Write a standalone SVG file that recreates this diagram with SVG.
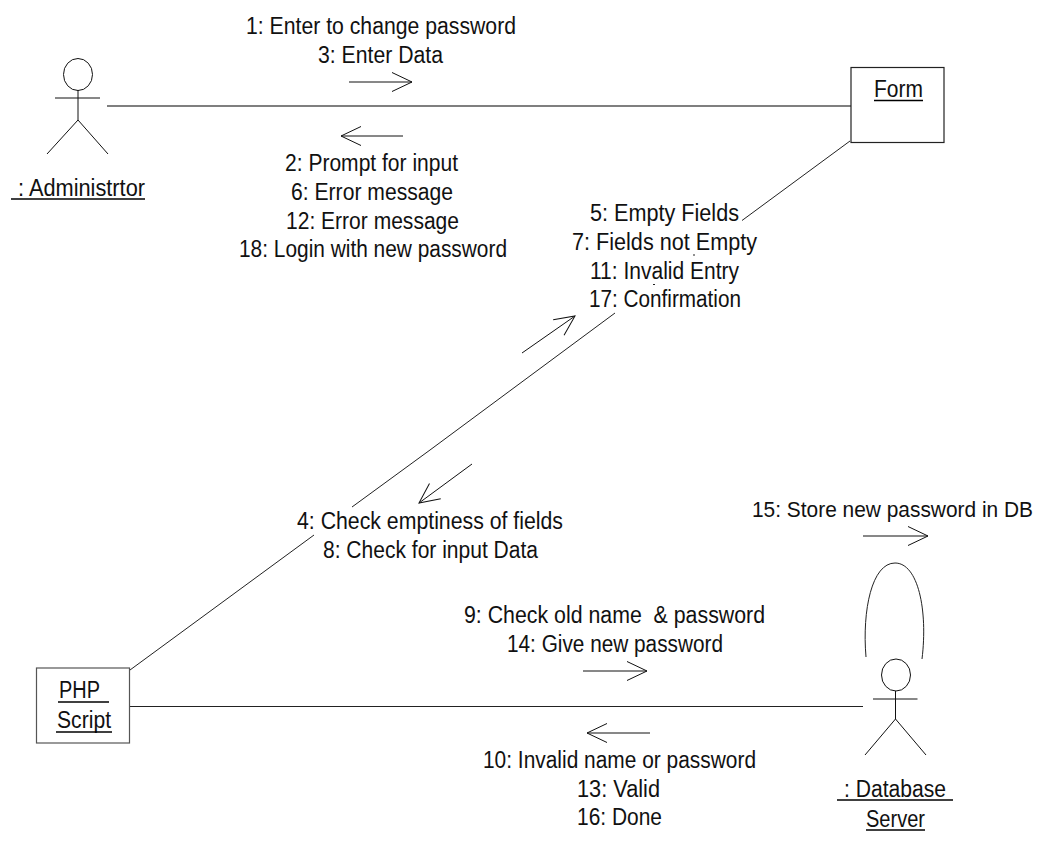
<svg xmlns="http://www.w3.org/2000/svg" width="1045" height="845" viewBox="0 0 1045 845">
<style>
text{font-family:"Liberation Sans",Arial,sans-serif;font-size:23px;fill:#111}
.s{fill:none;stroke:#111;stroke-width:1}
.box{fill:#fff;stroke:#222;stroke-width:1.2}
.u{stroke:#000;stroke-width:1.6}
.c{fill:none;stroke:#222;stroke-width:1}
.a{fill:none;stroke:#111;stroke-width:1;marker-end:url(#open)}
</style>
<defs>
<marker id="open" markerUnits="userSpaceOnUse" markerWidth="26" markerHeight="24" refX="22" refY="12" orient="auto">
<path d="M2,2.500 L22,12 L2,21.500" fill="none" stroke="#111" stroke-width="1"/>
</marker>
</defs>
<rect width="1045" height="845" fill="#fff"/>
<g id="connectors">
<path class="c" d="M107,106 H851" style="stroke:#555;stroke-width:1.5"/>
<path class="c" d="M850,141 L742,220.500"/>
<path class="c" d="M615,313 L430,450 L352,507"/>
<path class="c" d="M314,535 L130,670"/>
<path class="c" d="M130,706.500 H863"/>
<path class="c" d="M866,657 C862,610 872,563 895,563 C918,563 928,610 922,659"/>
<path class="c" d="M693,255 h2 M653,284.500 h2"/>
</g>
<g id="messages">
<path class="a" d="M522,353 L575,316"/>
<path class="a" d="M472,464 L419,503"/>
<path class="a" d="M349,82 H412"/>
<path class="a" d="M403,136 H341"/>
<path class="a" d="M583,671 H647"/>
<path class="a" d="M650,733 H587"/>
<path class="a" d="M863,536 H928"/>
<text x="246" y="34" textLength="270" lengthAdjust="spacingAndGlyphs">1: Enter to change password</text>
<text x="318" y="63" textLength="125" lengthAdjust="spacingAndGlyphs">3: Enter Data</text>
<text x="285" y="171" textLength="173" lengthAdjust="spacingAndGlyphs">2: Prompt for input</text>
<text x="291" y="200" textLength="162" lengthAdjust="spacingAndGlyphs">6: Error message</text>
<text x="286" y="229" textLength="173" lengthAdjust="spacingAndGlyphs">12: Error message</text>
<text x="239" y="257" textLength="268" lengthAdjust="spacingAndGlyphs">18: Login with new password</text>
<text x="590" y="220.500" textLength="149" lengthAdjust="spacingAndGlyphs">5: Empty Fields</text>
<text x="572" y="249.500" textLength="185" lengthAdjust="spacingAndGlyphs">7: Fields not Empty</text>
<text x="590" y="278.500" textLength="149" lengthAdjust="spacingAndGlyphs">11: Invalid Entry</text>
<text x="589" y="307" textLength="152" lengthAdjust="spacingAndGlyphs">17: Confirmation</text>
<text x="297" y="528.500" textLength="266" lengthAdjust="spacingAndGlyphs">4: Check emptiness of fields</text>
<text x="323" y="557.500" textLength="215" lengthAdjust="spacingAndGlyphs">8: Check for input Data</text>
<text x="464" y="623" textLength="301" lengthAdjust="spacingAndGlyphs" xml:space="preserve">9: Check old name  &amp; password</text>
<text x="507" y="652" textLength="216" lengthAdjust="spacingAndGlyphs">14: Give new password</text>
<text x="483" y="767.500" textLength="273" lengthAdjust="spacingAndGlyphs">10: Invalid name or password</text>
<text x="577" y="797" textLength="83" lengthAdjust="spacingAndGlyphs">13: Valid</text>
<text x="577" y="825" textLength="85" lengthAdjust="spacingAndGlyphs">16: Done</text>
<text x="752" y="516.500" textLength="281" lengthAdjust="spacingAndGlyphs" style="font-size:21.500px">15: Store new password in DB</text>
</g>
<g id="administrator">
<ellipse class="s" cx="78" cy="74.500" rx="14.500" ry="16"/>
<path class="s" d="M55,98 H100 M78,90 V120 L47,154 M78,120 L108,154"/>
<text x="18" y="195.500" textLength="127" lengthAdjust="spacingAndGlyphs">: Administrtor</text>
<path class="u" d="M11,199 H145"/>
</g>
<g id="form">
<rect class="box" x="851" y="67.500" width="93" height="75"/>
<text x="874" y="97" textLength="49" lengthAdjust="spacingAndGlyphs">Form</text>
<path class="u" d="M874,100.500 H923"/>
</g>
<g id="php-script">
<rect class="box" x="36.500" y="668" width="93" height="75" style="stroke:#555"/>
<text x="59" y="697.500" textLength="41" lengthAdjust="spacingAndGlyphs">PHP</text>
<path class="u" d="M58,702 H109"/>
<text x="57" y="727.500" textLength="54" lengthAdjust="spacingAndGlyphs">Script</text>
<path class="u" d="M56,732 H112"/>
</g>
<g id="database-server">
<ellipse class="s" cx="896" cy="675" rx="14.500" ry="16"/>
<path class="s" d="M873,699 H917.500 M895.500,691 V719 L865,755 M895.500,719 L926,755"/>
<text x="844" y="796.500" textLength="102" lengthAdjust="spacingAndGlyphs">: Database</text>
<path class="u" d="M837,800 H953"/>
<text x="866" y="827" textLength="59" lengthAdjust="spacingAndGlyphs">Server</text>
<path class="u" d="M866,830 H925"/>
</g>
</svg>
